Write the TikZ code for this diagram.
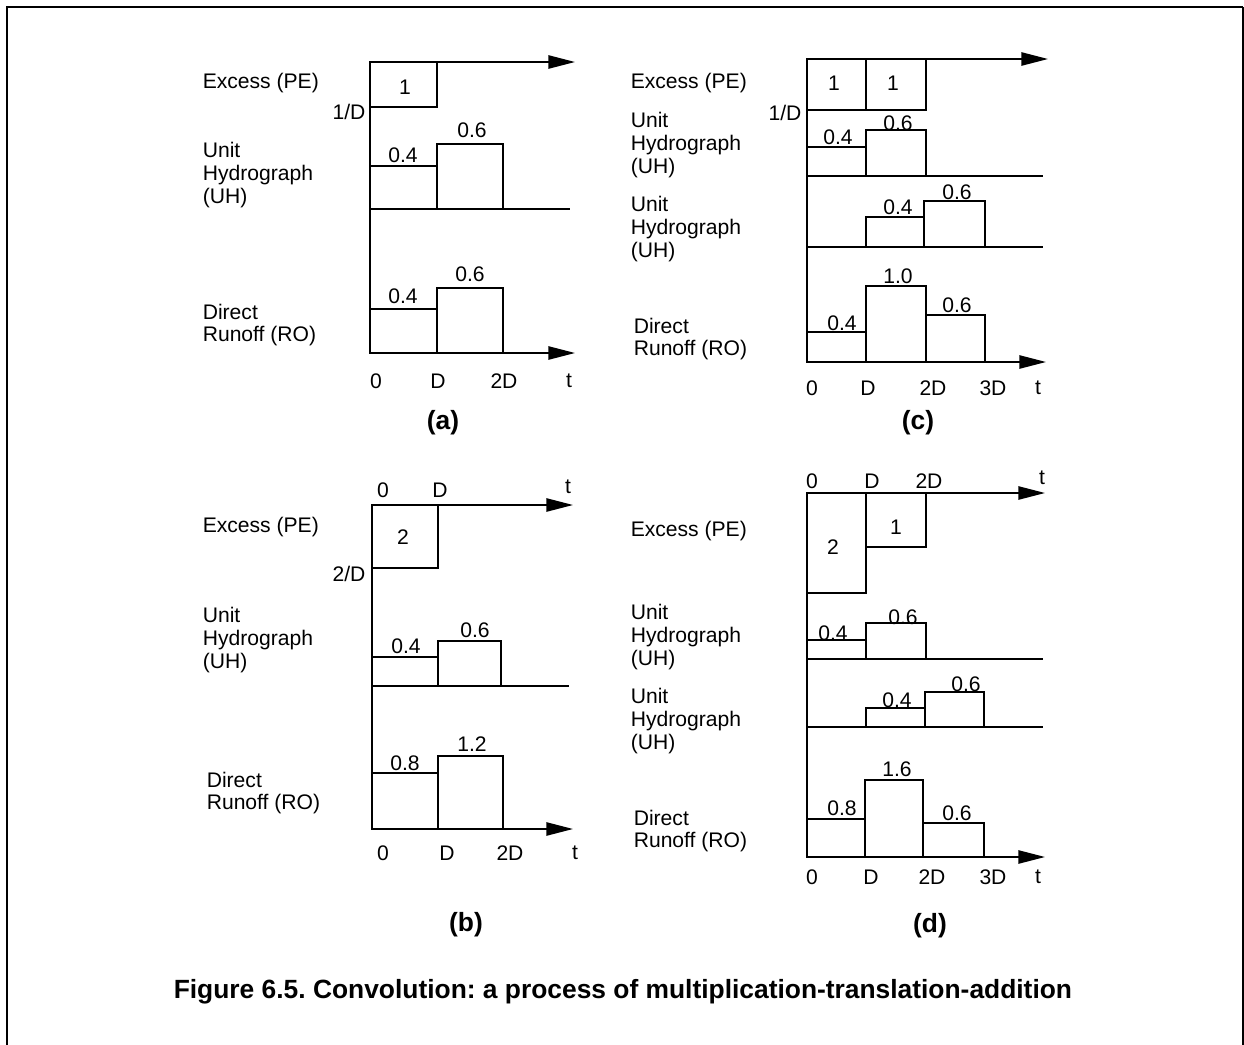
\documentclass[tikz,border=0pt]{standalone}
\usepackage{fontspec}
\setmainfont{Liberation Sans}
\usepackage{xcolor}
\usepackage{tikz}
\usetikzlibrary{arrows.meta}
\definecolor{INK}{HTML}{000000}
\frenchspacing

\begin{document}
\begin{tikzpicture}[
    x=0.01cm, y=-0.01cm,
    line width=0.45pt,
    axis/.style={draw=INK, -{Triangle[length=7.6pt,width=3.8pt]}},
    bar/.style={draw=INK},
    base/.style={draw=INK, line width=0.35pt},
    rowlabel/.style={font=\fontsize{6}{6.5}\selectfont, text=INK, anchor=west, align=left, inner sep=0pt},
    val/.style={font=\fontsize{6}{6}\selectfont, text=INK, inner sep=0pt},
    tick/.style={font=\fontsize{6}{6}\selectfont, text=INK, inner sep=0pt},
    head/.style={font=\fontsize{7.5}{7.5}\selectfont\bfseries, text=INK, inner sep=0pt},
  ]

  \useasboundingbox (0,0) rectangle (1244,1045);

  % frame (open at the bottom)
  \draw[line width=0.6pt] (7,1045) -- (7,7) -- (1243,7);
  \draw[line width=0.3pt] (1243,7) -- (1243,1045);

  % --- (a) one unit pulse ---
  \node[rowlabel] (a-pe) at (202,83) {Excess (PE)};
  \node[rowlabel] (a-uh) at (202,175) {Unit\\Hydrograph\\(UH)};
  \node[rowlabel] (a-ro) at (202,325) {Direct\\Runoff (RO)};
  \draw[INK] (370,353) -- (370,62);
  \draw[axis] (370,62) -- (575,62);
  \draw[bar] (370,62) rectangle (437,107);
  \node[val] (a-p1) at (405,87) {1};
  \node[val] (a-d) at (349,112) {1/D};
  \draw[base] (370,209) -- (570,209);
  \draw[bar] (370,209) rectangle (437,166);
  \draw[bar] (437,209) rectangle (503,144);
  \node[val] (a-u1) at (403,155) {0.4};
  \node[val] (a-u2) at (472,130) {0.6};
  \draw[bar] (370,353) rectangle (437,309);
  \draw[bar] (437,353) rectangle (503,288);
  \node[val] (a-r1) at (403,296) {0.4};
  \node[val] (a-r2) at (470,274) {0.6};
  \draw[axis] (370,353) -- (575,353);
  \foreach \x/\t in {376/0, 438/D, 504/2D, 569/t}
    \node[tick] (a-t\t) at (\x,381) {\t};
  \node[head] (a-cap) at (443,423) {(a)};

  % --- (b) pulse of two units ---
  \node[rowlabel] (b-pe) at (202,527) {Excess (PE)};
  \node[rowlabel] (b-uh) at (202,640) {Unit\\Hydrograph\\(UH)};
  \node[rowlabel] (b-ro) at (206,793) {Direct\\Runoff (RO)};
  \draw[INK] (372,829) -- (372,505);
  \draw[axis] (372,505) -- (573,505);
  \foreach \x/\t in {383/0, 440/D}
    \node[tick] (b-s\t) at (\x,490) {\t};
  \node[tick] (b-st) at (568,487) {t};
  \draw[bar] (372,505) rectangle (438,568);
  \node[val] (b-p1) at (403,537) {2};
  \node[val] (b-d) at (349,574) {2/D};
  \draw[base] (372,686) -- (569,686);
  \draw[bar] (372,686) rectangle (438,657);
  \draw[bar] (438,686) rectangle (501,641);
  \node[val] (b-u1) at (406,646) {0.4};
  \node[val] (b-u2) at (475,630) {0.6};
  \draw[bar] (372,829) rectangle (438,773);
  \draw[bar] (438,829) rectangle (503,756);
  \node[val] (b-r1) at (405,763) {0.8};
  \node[val] (b-r2) at (472,744) {1.2};
  \draw[axis] (372,829) -- (573,829);
  \foreach \x/\t in {383/0, 447/D, 510/2D, 575/t}
    \node[tick] (b-t\t) at (\x,853) {\t};
  \node[head] (b-cap) at (466,925) {(b)};

  % --- (c) two unit pulses ---
  \node[rowlabel] (c-pe) at (630,83) {Excess (PE)};
  \node[rowlabel] (c-uh1) at (630,145) {Unit\\Hydrograph\\(UH)};
  \node[rowlabel] (c-uh2) at (630,229) {Unit\\Hydrograph\\(UH)};
  \node[rowlabel] (c-ro) at (633,339) {Direct\\Runoff (RO)};
  \draw[INK] (807,362) -- (807,59);
  \draw[axis] (807,59) -- (1048,59);
  \draw[bar] (807,59) rectangle (866,110);
  \draw[bar] (866,59) rectangle (926,110);
  \node[val] (c-p1) at (834,83) {1};
  \node[val] (c-p2) at (893,83) {1};
  \node[val] (c-d) at (785,113) {1/D};
  \draw[base] (807,176) -- (1043,176);
  \draw[bar] (807,176) rectangle (866,147);
  \draw[bar] (866,176) rectangle (926,130);
  \node[val] (c-u1) at (838,137) {0.4};
  \node[val] (c-u2) at (898,123) {0.6};
  \draw[base] (807,247) -- (1043,247);
  \draw[bar] (866,247) rectangle (924,217);
  \draw[bar] (924,247) rectangle (985,201);
  \node[val] (c-v1) at (898,207) {0.4};
  \node[val] (c-v2) at (957,192) {0.6};
  \draw[bar] (807,362) rectangle (866,332);
  \draw[bar] (866,362) rectangle (926,286);
  \draw[bar] (926,362) rectangle (985,315);
  \node[val] (c-r1) at (842,323) {0.4};
  \node[val] (c-r2) at (898,276) {1.0};
  \node[val] (c-r3) at (957,305) {0.6};
  \draw[axis] (807,362) -- (1046,362);
  \foreach \x/\t in {812/0, 868/D, 933/2D, 993/3D, 1038/t}
    \node[tick] (c-t\t) at (\x,388) {\t};
  \node[head] (c-cap) at (918,423) {(c)};

  % --- (d) pulses of two and one units ---
  \node[rowlabel] (d-pe) at (630,531) {Excess (PE)};
  \node[rowlabel] (d-uh1) at (630,637) {Unit\\Hydrograph\\(UH)};
  \node[rowlabel] (d-uh2) at (630,721) {Unit\\Hydrograph\\(UH)};
  \node[rowlabel] (d-ro) at (633,831) {Direct\\Runoff (RO)};
  \draw[INK] (807,857) -- (807,493);
  \draw[axis] (807,493) -- (1045,493);
  \foreach \x/\t in {812/0, 872/D, 929/2D}
    \node[tick] (d-s\t) at (\x,481) {\t};
  \node[tick] (d-st) at (1042,478) {t};
  \draw[bar] (807,493) rectangle (866,593);
  \draw[bar] (866,493) rectangle (926,547);
  \node[val] (d-p1) at (833,547) {2};
  \node[val] (d-p2) at (896,527) {1};
  \draw[base] (807,659) -- (1043,659);
  \draw[bar] (807,659) rectangle (866,640);
  \draw[bar] (866,659) rectangle (926,623);
  \node[val] (d-u1) at (833,633) {0.4};
  \node[val] (d-u2) at (903,617) {0.6};
  \draw[base] (807,727) -- (1043,727);
  \draw[bar] (866,727) rectangle (925,708);
  \draw[bar] (925,727) rectangle (984,692);
  \node[val] (d-v1) at (897,700) {0.4};
  \node[val] (d-v2) at (966,684) {0.6};
  \draw[bar] (807,857) rectangle (865,819);
  \draw[bar] (865,857) rectangle (923,780);
  \draw[bar] (923,857) rectangle (984,823);
  \node[val] (d-r1) at (842,808) {0.8};
  \node[val] (d-r2) at (897,769) {1.6};
  \node[val] (d-r3) at (957,813) {0.6};
  \draw[axis] (807,857) -- (1045,857);
  \foreach \x/\t in {812/0, 871/D, 932/2D, 993/3D, 1038/t}
    \node[tick] (d-t\t) at (\x,877) {\t};
  \node[head] (d-cap) at (930,926) {(d)};

  % caption
  \node[head, anchor=base west] (fig) at (173,998)
    {Figure 6.5. Convolution: a process of multiplication-translation-addition};

\end{tikzpicture}
\end{document}
